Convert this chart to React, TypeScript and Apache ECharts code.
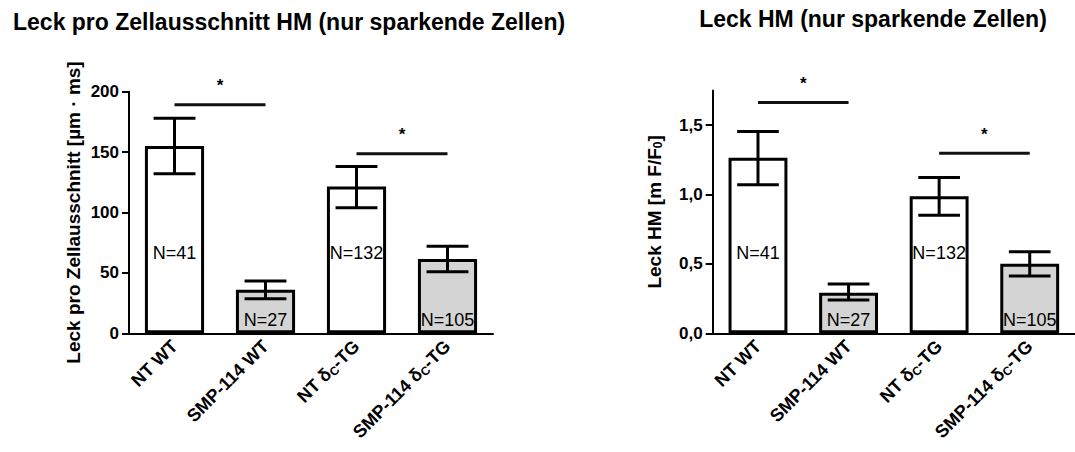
import React, { useEffect, useRef } from "react";
import * as echarts from "echarts";

const FONT = '"Liberation Sans", Arial, Helvetica, sans-serif';

const categories = ["NT WT", "SMP-114 WT", "NT δC-TG", "SMP-114 δC-TG"];
const nLabels = ["N=41", "N=27", "N=132", "N=105"];

// Left chart: Leck pro Zellausschnitt [µm · ms]
const leftMeans = [155, 36, 121.5, 61.5];
const leftErrLow = [132, 28.5, 104, 51];
const leftErrHigh = [178, 43.3, 138, 72];
const leftSig = [
  [0, 1, 189.3],
  [2, 3, 148.6],
];

// Right chart: Leck HM [m F/F0]
const rightMeans = [1.265, 0.292, 0.988, 0.501];
const rightErrLow = [1.07, 0.24, 0.85, 0.413];
const rightErrHigh = [1.454, 0.355, 1.123, 0.588];
const rightSig = [
  [0, 1, 1.663],
  [2, 3, 1.298],
];

const leftTicks = [0, 50, 100, 150, 200];
const rightTicks = [0, 0.5, 1.0, 1.5];

const fmtCat = (v: string) => v.replace("δC", "δ{sub|C}");

const subRich = {
  sub: {
    fontSize: 12,
    fontWeight: "bold",
    fontFamily: FONT,
    color: "#000",
    padding: [8, 0, 0, 0],
    verticalAlign: "bottom",
  },
};

function xAxisFor(gridIndex: number) {
  return {
    type: "category",
    gridIndex,
    data: categories,
    axisLine: { lineStyle: { color: "#000", width: 2 } },
    axisTick: { alignWithLabel: true, length: 6, lineStyle: { color: "#000", width: 2 } },
    axisLabel: {
      rotate: 45,
      interval: 0,
      margin: 10,
      fontSize: 18,
      fontWeight: "bold",
      fontFamily: FONT,
      color: "#000",
      formatter: fmtCat,
      rich: subRich,
    },
    splitLine: { show: false },
  };
}

function errRender(lo: number[], hi: number[]) {
  return (params: any, api: any) => {
    const i = params.dataIndex;
    const pLo = api.coord([i, lo[i]]);
    const pHi = api.coord([i, hi[i]]);
    const hw = api.size([1, 0])[0] * 0.23;
    const st = { stroke: "#000", lineWidth: 3, fill: null };
    return {
      type: "group",
      children: [
        { type: "line", shape: { x1: pLo[0], y1: pLo[1], x2: pHi[0], y2: pHi[1] }, style: st },
        { type: "line", shape: { x1: pLo[0] - hw, y1: pLo[1], x2: pLo[0] + hw, y2: pLo[1] }, style: st },
        { type: "line", shape: { x1: pHi[0] - hw, y1: pHi[1], x2: pHi[0] + hw, y2: pHi[1] }, style: st },
      ],
    };
  };
}

function sigRender(params: any, api: any) {
  const p1 = api.coord([api.value(0), api.value(2)]);
  const p2 = api.coord([api.value(1), api.value(2)]);
  return {
    type: "group",
    children: [
      {
        type: "line",
        shape: { x1: p1[0], y1: p1[1], x2: p2[0], y2: p2[1] },
        style: { stroke: "#111", lineWidth: 3 },
      },
      {
        type: "text",
        x: (p1[0] + p2[0]) / 2,
        y: p1[1] - 19,
        style: {
          text: "*",
          fontSize: 17,
          fontWeight: "bold",
          fontFamily: FONT,
          fill: "#000",
          align: "center",
          verticalAlign: "middle",
        },
      },
    ],
  };
}

function nRender(params: any, api: any) {
  const i = params.dataIndex;
  const p = api.coord([i, 0]);
  const off = i % 2 === 0 ? 80 : 13;
  return {
    type: "text",
    x: p[0],
    y: p[1] - off,
    style: {
      text: nLabels[i],
      fontSize: 18,
      fontFamily: FONT,
      fill: "#000",
      align: "center",
      verticalAlign: "middle",
    },
  };
}

function barSeries(idx: number, means: number[]) {
  return {
    type: "bar",
    xAxisIndex: idx,
    yAxisIndex: idx,
    barWidth: "65%",
    data: means.map((v, i) => ({
      value: v,
      itemStyle: { color: i % 2 === 1 ? "#d4d4d4" : "#ffffff" },
    })),
    itemStyle: { borderColor: "#000", borderWidth: 3 },
    z: 2,
  };
}

function customSeries(idx: number, data: any[], renderItem: any, z: number) {
  return {
    type: "custom",
    xAxisIndex: idx,
    yAxisIndex: idx,
    data,
    renderItem,
    clip: false,
    z,
  };
}

export default function App() {
  const ref = useRef<HTMLDivElement>(null);

  useEffect(() => {
    if (!ref.current) return;
    const chart = echarts.init(ref.current, null, { renderer: "svg" });
    const yLabel = {
      fontSize: 17,
      fontWeight: "bold",
      fontFamily: FONT,
      color: "#000",
      margin: 10,
    };
    const titleStyle = {
      fontSize: 23,
      fontWeight: "bold",
      fontFamily: FONT,
      fill: "#000",
      verticalAlign: "middle",
    };
    const option: any = {
      animation: false,
      backgroundColor: "#fff",
      graphic: [
        {
          type: "text",
          x: 13,
          y: 22,
          style: {
            ...titleStyle,
            text: "Leck pro Zellausschnitt HM (nur sparkende Zellen)",
            align: "left",
          },
        },
        {
          type: "text",
          x: 873,
          y: 19,
          style: {
            ...titleStyle,
            text: "Leck HM (nur sparkende Zellen)",
            align: "center",
          },
        },
      ],
      grid: [
        { left: 129, top: 91.7, width: 364, height: 241.6 },
        { left: 712.7, top: 90.5, width: 365, height: 242.8 },
      ],
      xAxis: [xAxisFor(0), xAxisFor(1)],
      yAxis: [
        {
          type: "value",
          gridIndex: 0,
          min: 0,
          max: 200,
          interval: 50,
          axisLine: { show: true, lineStyle: { color: "#000", width: 2 } },
          axisTick: { show: true, length: 7, lineStyle: { color: "#000", width: 2 }, customValues: leftTicks },
          axisLabel: { ...yLabel, customValues: leftTicks },
          splitLine: { show: false },
          name: "Leck pro Zellausschnitt [µm · ms]",
          nameLocation: "middle",
          nameGap: 46,
          nameRotate: 90,
          nameTextStyle: { fontSize: 19, fontWeight: "bold", fontFamily: FONT, color: "#000" },
        },
        {
          type: "value",
          gridIndex: 1,
          min: 0,
          max: 1.75,
          interval: 0.5,
          axisLine: { show: true, lineStyle: { color: "#000", width: 2 } },
          axisTick: { show: true, length: 7, lineStyle: { color: "#000", width: 2 }, customValues: rightTicks },
          axisLabel: {
            ...yLabel,
            customValues: rightTicks,
            formatter: (v: number) => v.toFixed(1).replace(".", ","),
          },
          splitLine: { show: false },
          name: "Leck HM [m F/F{sub|0}]",
          nameLocation: "middle",
          nameGap: 49,
          nameRotate: 90,
          nameTextStyle: {
            fontSize: 19,
            fontWeight: "bold",
            fontFamily: FONT,
            color: "#000",
            rich: {
              sub: {
                fontSize: 12,
                fontWeight: "bold",
                fontFamily: FONT,
                color: "#000",
                padding: [7, 0, 0, 0],
                verticalAlign: "bottom",
              },
            },
          },
        },
      ],
      series: [
        barSeries(0, leftMeans),
        customSeries(0, leftMeans.map((_, i) => [i, leftErrLow[i], leftErrHigh[i]]), errRender(leftErrLow, leftErrHigh), 3),
        customSeries(0, leftSig, sigRender, 3),
        customSeries(0, nLabels.map((_, i) => [i, 0]), nRender, 4),
        barSeries(1, rightMeans),
        customSeries(1, rightMeans.map((_, i) => [i, rightErrLow[i], rightErrHigh[i]]), errRender(rightErrLow, rightErrHigh), 3),
        customSeries(1, rightSig, sigRender, 3),
        customSeries(1, nLabels.map((_, i) => [i, 0]), nRender, 4),
      ],
    };
    chart.setOption(option);
    return () => chart.dispose();
  }, []);

  return (
    <div
      ref={ref}
      style={{ position: "fixed", left: 0, top: 0, width: 1075, height: 452, background: "#fff" }}
    />
  );
}
